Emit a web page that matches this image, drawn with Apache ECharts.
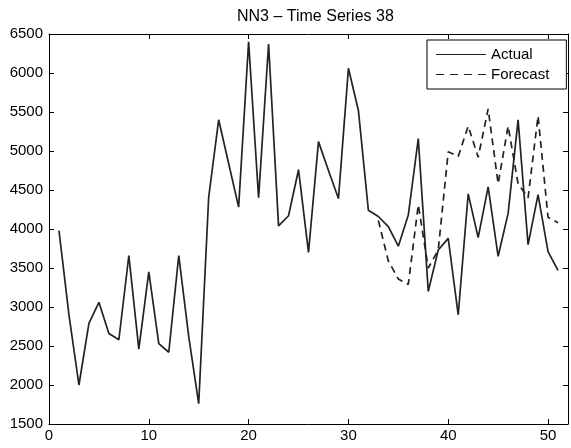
<!DOCTYPE html>
<html>
<head>
<meta charset="utf-8">
<script src="https://cdn.jsdelivr.net/npm/echarts@6/dist/echarts.min.js"></script>
<style>
  html, body { margin: 0; padding: 0; background: #fff; }
  #chart { width: 571px; height: 448px; }
</style>
</head>
<body>
<div id="chart"></div>
<script>
// NN3 competition, series 38: observed values and the out-of-sample forecast
const periods = [1, 2, 3, 4, 5, 6, 7, 8, 9, 10, 11, 12, 13, 14, 15, 16, 17, 18, 19, 20,
  21, 22, 23, 24, 25, 26, 27, 28, 29, 30, 31, 32, 33, 34, 35, 36, 37, 38, 39, 40,
  41, 42, 43, 44, 45, 46, 47, 48, 49, 50, 51];
const actual = [3980, 2900, 2000, 2790, 3060, 2660, 2580, 3660, 2460, 3450,
  2530, 2420, 3660, 2620, 1760, 4410, 5400, 4840, 4280, 6400,
  4400, 6370, 4040, 4170, 4760, 3700, 5120, 4750, 4390, 6060,
  5520, 4240, 4160, 4030, 3780, 4180, 5160, 3200, 3730, 3880,
  2900, 4450, 3890, 4540, 3650, 4200, 5400, 3800, 4440, 3710, 3470];
const forecastPeriods = [33, 34, 35, 36, 37, 38, 39, 40, 41, 42, 43, 44, 45, 46, 47, 48, 49, 50, 51];
const forecast = [4110, 3590, 3360, 3290, 4310, 3500, 3730, 4990, 4930, 5320,
  4920, 5540, 4580, 5320, 4580, 4400, 5450, 4150, 4080];
const xTicks = [0, 10, 20, 30, 40, 50];
const yTicks = [1500, 2000, 2500, 3000, 3500, 4000, 4500, 5000, 5500, 6000, 6500];

const FONT = 'Liberation Sans, Arial, Helvetica, sans-serif';
const INK = '#000';
const LINE = '#222';

// legend keys: a plain stroke and a dashed stroke
const SOLID_KEY = 'path://M0,0H50V1H0Z';
const DASHED_KEY = 'path://M0,0H8V1H0Z M14,0H22V1H14Z M28,0H36V1H28Z M42,0H50V1H42Z';

const pair = (xs, ys) => xs.map((x, i) => [x, ys[i]]);

const xBase = {
  type: 'value', min: 0, max: 52, interval: 10,
  axisLine: { show: true, onZero: false, lineStyle: { color: INK, width: 1 } },
  axisTick: { show: true, inside: true, length: 5, lineStyle: { color: INK, width: 1 } },
  splitLine: { show: false }
};
const yBase = {
  type: 'value', min: yTicks[0], max: yTicks[yTicks.length - 1], interval: 500,
  axisLine: { show: true, onZero: false, lineStyle: { color: INK, width: 1 } },
  axisTick: { show: true, inside: true, length: 5, lineStyle: { color: INK, width: 1 } },
  splitLine: { show: false }
};

const chart = echarts.init(document.getElementById('chart'), null, { renderer: 'canvas' });
chart.setOption({
  animation: false,
  backgroundColor: '#fff',
  title: {
    text: 'NN3 \u2013 Time Series 38',
    left: 232, top: 4,
    textStyle: { fontFamily: FONT, fontSize: 16, fontWeight: 'normal', color: INK }
  },
  grid: { left: 49, right: 1, top: 34, bottom: 24, containLabel: false },
  legend: {
    orient: 'vertical',
    left: 427, top: 40,
    padding: [6, 17, 6, 9],
    itemGap: 3,
    itemWidth: 50, itemHeight: 1.6,
    backgroundColor: '#fff',
    borderColor: INK, borderWidth: 1,
    textStyle: { fontFamily: FONT, fontSize: 15, color: INK, lineHeight: 17 },
    data: [
      { name: 'Actual', icon: SOLID_KEY, itemStyle: { color: LINE } },
      { name: 'Forecast', icon: DASHED_KEY, itemStyle: { color: LINE } }
    ]
  },
  xAxis: [
    Object.assign({}, xBase, {
      position: 'bottom',
      axisLabel: {
        margin: 4, color: INK, fontFamily: FONT, fontSize: 15,
        formatter: v => (xTicks.indexOf(v) >= 0 ? String(v) : '')
      }
    }),
    Object.assign({}, xBase, { position: 'top', axisLabel: { show: false } })
  ],
  yAxis: [
    Object.assign({}, yBase, {
      position: 'left',
      axisLabel: {
        margin: 6, color: INK, fontFamily: FONT, fontSize: 15,
        formatter: v => String(v)
      }
    }),
    Object.assign({}, yBase, { position: 'right', axisLabel: { show: false } })
  ],
  series: [
    {
      name: 'Actual', type: 'line', xAxisIndex: 0, yAxisIndex: 0,
      data: pair(periods, actual),
      symbol: 'none', smooth: false,
      lineStyle: { color: LINE, width: 1.7, type: 'solid' },
      itemStyle: { color: LINE }
    },
    {
      name: 'Forecast', type: 'line', xAxisIndex: 0, yAxisIndex: 0,
      data: pair(forecastPeriods, forecast),
      symbol: 'none', smooth: false,
      lineStyle: { color: LINE, width: 1.7, type: [7, 5] },
      itemStyle: { color: LINE }
    }
  ]
});
</script>
</body>
</html>
